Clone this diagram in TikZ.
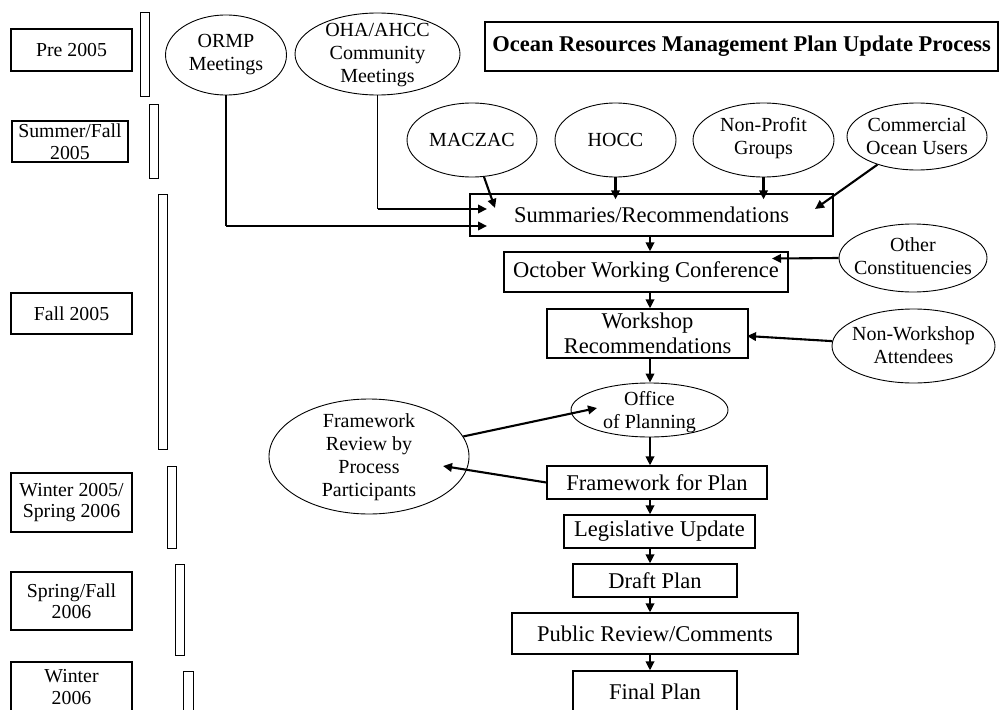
\documentclass[tikz,border=0pt]{standalone}
\usepackage{fontspec}
\setmainfont{Liberation Serif}
\usetikzlibrary{shapes.geometric,arrows.meta,calc}
\tikzset{
  pbox/.style={draw,line width=1.3pt,rectangle,inner sep=0pt,align=center,font=\fontsize{22.5}{25}\selectfont},
  lbox/.style={draw,line width=1.3pt,rectangle,inner sep=0pt,align=center,font=\fontsize{19.8}{21.5}\selectfont},
  oval/.style={draw,line width=0.9pt,ellipse,inner sep=0pt},
  otxt/.style={align=center,inner sep=0pt,font=\fontsize{20}{23}\selectfont},
  ltxt/.style={align=center,inner sep=0pt,font=\fontsize{19.8}{21.5}\selectfont},
  bar/.style={draw,line width=1pt},
  arr/.style={line width=2.1pt,-{Triangle[length=9pt,width=8.5pt]}},
  feed/.style={line width=1.3pt},
}
\begin{document}
\begin{tikzpicture}[x=1pt,y=-1pt]
\useasboundingbox (0,0) rectangle (1000,709);
% period boxes
\node[lbox,minimum width=121,minimum height=42] (p1) at (71.5,50) {Pre 2005};
\node[lbox,minimum width=116,minimum height=41] (p2) at (70,141.5) {Summer/Fall\\2005};
\node[lbox,minimum width=121,minimum height=41] (p3) at (71.5,313.5) {Fall 2005};
\node[lbox,minimum width=121,minimum height=59] (p4) at (71.5,502.5) {Winter 2005/\\Spring 2006};
\node[lbox,minimum width=121,minimum height=58] (p5) at (71.5,601) {Spring/Fall\\2006};
\node[lbox,minimum width=121,minimum height=80] (p6) at (71.5,702) {};
\node[ltxt] (p6t) at (71.5,687) {Winter\\2006};
% bars
\draw[bar] (140,13) rectangle (149,96);
\draw[bar] (149,104) rectangle (158,178);
\draw[bar] (158,194) rectangle (167,449);
\draw[bar] (167,466) rectangle (176,548);
\draw[bar] (175,564) rectangle (184,655);
\draw[bar] (183,671) rectangle (193,730);
% title
\node[draw,line width=2.4pt,minimum width=513,minimum height=49,inner sep=0pt,font=\bfseries\fontsize{22.5}{25}\selectfont] (title) at (741.5,46.5) {Ocean Resources Management Plan Update Process};
% ellipses
\node[oval,minimum width=121,minimum height=80] (ormp) at (226,55) {};
\node[otxt] at (ormp) {ORMP\\Meetings};
\node[oval,minimum width=165,minimum height=82] (oha) at (377.5,54) {};
\node[otxt] at (377.5,55) {OHA/AHCC\\Community\\Meetings};
\node[oval,minimum width=130,minimum height=74] (maczac) at (472,140) {};
\node[otxt] at (maczac) {MACZAC};
\node[oval,minimum width=121,minimum height=74] (hocc) at (615.5,140) {};
\node[otxt] at (hocc) {HOCC};
\node[oval,minimum width=141,minimum height=74] (nonprofit) at (763.5,140) {};
\node[otxt] at (763.5,138) {Non-Profit\\Groups};
\node[oval,minimum width=140,minimum height=67] (commercial) at (917,136.5) {};
\node[otxt] at (917,136) {Commercial\\Ocean Users};
\node[oval,minimum width=148,minimum height=68] (other) at (913,258) {};
\node[otxt] at (913,256) {Other\\Constituencies};
\node[oval,minimum width=163,minimum height=74] (nonworkshop) at (913.5,346) {};
\node[otxt] at (913.5,345) {Non-Workshop\\Attendees};
\node[oval,minimum width=157,minimum height=54] (office) at (649.5,410) {};
\node[otxt] at (649.5,412) {Office\\of Planning};
\node[oval,minimum width=200,minimum height=115] (review) at (369,456.5) {};
\node[otxt] at (369,457) {Framework\\Review by\\Process\\Participants};
% process boxes
\node[pbox,minimum width=363,minimum height=42] (summ) at (651.5,215) {Summaries/Recommendations};
\node[pbox,minimum width=284,minimum height=40] (oct) at (646,272) {October Working Conference};
\node[pbox,minimum width=201,minimum height=49] (work) at (647.5,333.5) {Workshop\\Recommendations};
\node[pbox,minimum width=220,minimum height=33] (frame) at (657,482.5) {Framework for Plan};
\node[pbox,minimum width=191,minimum height=33] (legis) at (659.5,531.5) {Legislative Update};
\node[pbox,minimum width=164,minimum height=33] (draft) at (655,580.5) {Draft Plan};
\node[pbox,minimum width=286,minimum height=41] (public) at (655,633.5) {Public Review/Comments};
\node[pbox,minimum width=164,minimum height=80] (final) at (655,711) {};
\node[pbox,draw=none] (finalt) at (655,692) {Final Plan};
% arrow end points
\coordinate (col) at (650,0);
\coordinate (e1) at (487,226);
\coordinate (e2) at (487,209);
\coordinate (e3) at (495,208);
\coordinate (e5) at (815,209);
\coordinate (e6) at (772,258.5);
\coordinate (e7) at (747,336);
\coordinate (e8) at (597,408);
\coordinate (e9) at (443,466);
% connectors
\draw[feed] (ormp.south) -- (ormp.south |- e1);
\draw[arr] (ormp.south |- e1) -- (e1);
\draw[feed] (oha.south) -- (oha.south |- e2);
\draw[arr] (oha.south |- e2) -- (e2);
\draw[arr] (maczac.-72) -- (e3);
\draw[arr,shorten >=-6pt] (hocc.south) -- (hocc.south |- summ.north);
\draw[arr,shorten >=-6pt] (nonprofit.south) -- (nonprofit.south |- summ.north);
\draw[arr] (commercial) -- (e5);
\draw[arr] (col |- summ.south) -- (col |- oct.north);
\draw[arr] (other.west) -- (e6);
\draw[arr] (col |- oct.south) -- (col |- work.north);
\draw[arr] (nonworkshop) -- (e7);
\draw[arr] (col |- work.south) -- (col |- office.north);
\draw[arr] (review) -- (e8);
\draw[arr] (col |- office.south) -- (col |- frame.north);
\draw[arr] (frame.west) -- (e9);
\draw[arr] (col |- frame.south) -- (col |- legis.north);
\draw[arr] (col |- legis.south) -- (col |- draft.north);
\draw[arr] (col |- draft.south) -- (col |- public.north);
\draw[arr] (col |- public.south) -- (col |- final.north);
\end{tikzpicture}
\end{document}
